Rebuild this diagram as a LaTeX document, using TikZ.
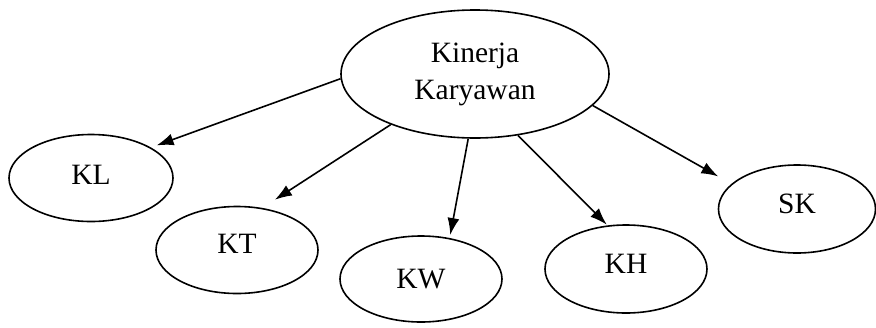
\documentclass[tikz,border=0pt]{standalone}
\usepackage{fontspec}
\setmainfont{Liberation Serif}
\usetikzlibrary{shapes.geometric,arrows.meta}
\begin{document}
\begin{tikzpicture}[x=1pt,y=-1pt,
  oval/.style={ellipse,draw,line width=1.6pt,inner sep=0pt,
    font=\fontsize{29.5}{37}\selectfont,align=center},
  arr/.style={line width=1.6pt,-{Latex[length=17pt,width=12pt]}}]
\useasboundingbox[fill=white] (0,0) rectangle (876,327);
\node[oval,minimum width=268pt,minimum height=128pt] (main) at (475,74) {Kinerja\\Karyawan};
\node[oval,minimum width=164pt,minimum height=87pt,text depth=6pt] (KL) at (91,178) {KL};
\node[oval,minimum width=162pt,minimum height=87pt,text depth=13pt] (KT) at (237,250) {KT};
\node[oval,minimum width=162pt,minimum height=86pt] (KW) at (421,279) {KW};
\node[oval,minimum width=162pt,minimum height=88pt,text depth=11pt] (KH) at (626,269) {KH};
\node[oval,minimum width=157pt,minimum height=88pt,text depth=11pt] (SK) at (797,209) {SK};
\draw[arr,shorten >=6pt] (main.182) -- (KL.27);
\draw[arr,shorten >=15pt] (main.211) -- (KT.59);
\draw[arr,shorten >=3pt] (main.264) -- (KW.55);
\draw[arr,shorten >=1pt] (main.305) -- (KH.113);
\draw[arr,shorten >=15pt] (main.345) -- (SK.159);
\end{tikzpicture}
\end{document}
